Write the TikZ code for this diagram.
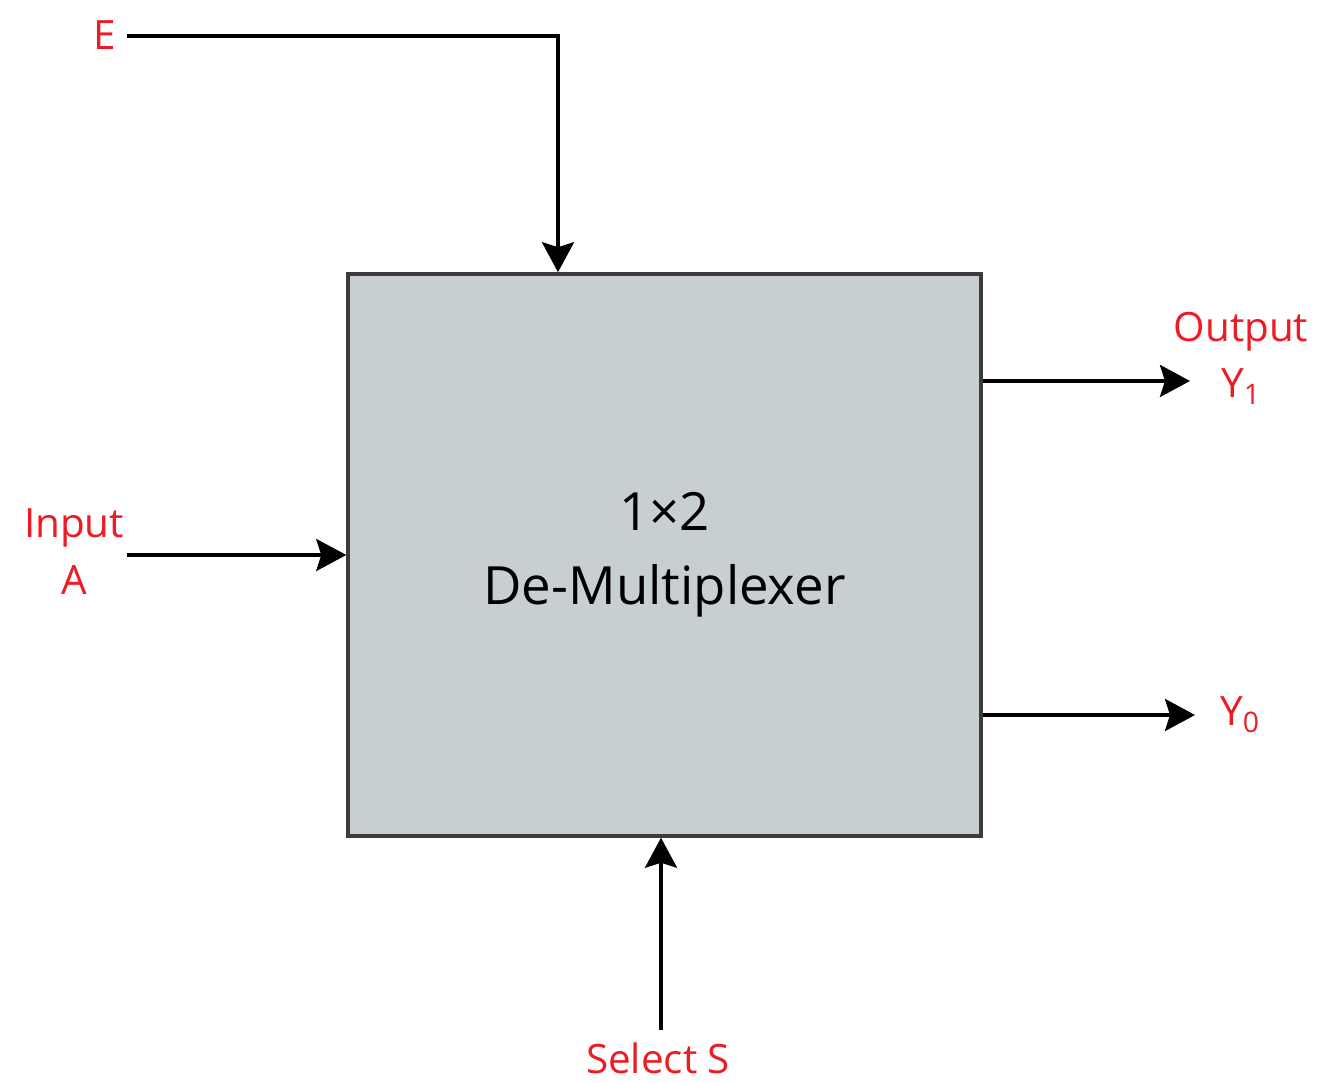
\documentclass[tikz,border=0pt]{standalone}
\usepackage{fontspec}
\setmainfont{Open Sans}
\definecolor{sigred}{RGB}{237, 28, 36}
\definecolor{boxgray}{RGB}{200, 207, 211}
\definecolor{edgegray}{RGB}{60, 60, 60}
\usepackage{tikz}
\usetikzlibrary{arrows.meta, positioning, calc}

\tikzset{
  demuxbox/.style={draw=edgegray, line width=2pt, fill=boxgray, minimum width=12.66cm, minimum height=11.24cm, align=center, font=\fontsize{30}{42}\selectfont},
  siglabel/.style={text=sigred, align=center, font=\fontsize{23}{32}\selectfont, inner sep=0pt},
  sigline/.style={line width=2pt, -{Stealth[length=0.6cm, width=0.64cm, inset=0.1cm]}}
}

\begin{document}
\begin{tikzpicture}
  \useasboundingbox (0, 0) rectangle (26.44, 21.66);

  % Block
  \node[demuxbox] (demux) at (13.29, 10.56) {1×2\\De-Multiplexer};

  % Labels
  \node[siglabel] (elabel) at (2.1, 20.96) {E};
  \node[siglabel] (inlabel) at (1.48, 10.63) {Input\\A};
  \node[siglabel] (outlabel) at (24.82, 14.5) {Output\\Y\textsubscript{1}};
  \node[siglabel] (y0label) at (24.8, 7.36) {Y\textsubscript{0}};
  \node[siglabel] (sellabel) at (13.16, 0.5) {Select S};

  % Free ends
  \coordinate (estart) at (2.54, 20.94);
  \coordinate (ecorner) at (11.16, 20.94);
  \coordinate (instart) at (2.54, 10.56);
  \coordinate (y1end) at (23.8, 14.04);
  \coordinate (y0end) at (23.9, 7.36);
  \coordinate (selstart) at (13.22, 1.06);

  % Signals
  \draw[sigline] (estart) -- (ecorner) -- (ecorner |- demux.north);
  \draw[sigline] (instart) -- (demux.west);
  \draw[sigline] (demux.east |- y1end) -- (y1end);
  \draw[sigline] (demux.east |- y0end) -- (y0end);
  \draw[sigline] (selstart) -- (selstart |- demux.south);
\end{tikzpicture}
\end{document}
